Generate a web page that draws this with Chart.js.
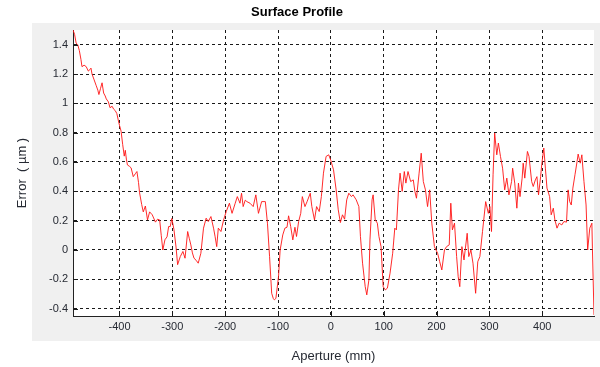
<!DOCTYPE html>
<html>
<head>
<meta charset="utf-8">
<script src="https://cdn.jsdelivr.net/npm/chart.js@4/dist/chart.umd.min.js"></script>
<style>
  html, body { margin: 0; padding: 0; background: #fff; }
  #wrap { width: 600px; height: 367px; }
</style>
</head>
<body>
<div id="wrap"><canvas id="c"></canvas></div>
<script>
// ── datos ─────────────────────────────────────────
const aperture = [
  -488, -485, -482, -479, -476, -473, -471, -467, -463, -459, -456, -454, -452, -448, -444,
  -441, -439, -436, -433, -430, -427, -425, -421, -418, -414, -411, -408, -405, -402, -400,
  -397, -394, -391, -389, -387, -385, -381, -378, -374, -370, -367, -364, -362, -358, -355,
  -351, -347, -343, -338, -332, -328, -324, -321, -318, -314, -310, -307, -304, -301, -297,
  -293, -290, -285, -280, -276, -271, -268, -265, -262, -259, -255, -251, -246, -241, -236,
  -232, -227, -222, -219, -216, -213, -208, -203, -198, -192, -187, -181, -177, -172, -169,
  -166, -162, -159, -153, -147, -142, -137, -131, -124, -120, -116, -112, -109, -107, -104,
  -99, -96, -91, -87, -83, -80, -76, -72, -68, -65, -61, -57, -54, -49, -45,
  -39, -36, -31, -27, -22, -18, -14, -9, -4, 0, 5, 10, 14, 18, 22,
  26, 30, 34, 39, 42, 48, 53, 56, 60, 65, 68, 72, 74, 78, 80,
  84, 88, 91, 95, 99, 103, 107, 112, 117, 121, 124, 128, 131, 135, 139,
  142, 146, 151, 156, 159, 162, 167, 171, 175, 179, 183, 187, 191, 196, 202,
  206, 210, 215, 219, 224, 227, 230, 234, 238, 241, 244, 248, 252, 258, 261,
  265, 269, 274, 278, 282, 287, 293, 298, 301, 304, 307, 310, 314, 317, 321,
  325, 329, 333, 337, 342, 344, 348, 352, 355, 358, 362, 364, 367, 372, 375,
  380, 383, 387, 390, 393, 397, 399, 403, 406, 409, 414, 417, 421, 424, 428,
  432, 437, 441, 446, 449, 452, 455, 458, 462, 466, 468, 472, 475, 479, 483,
  486, 490, 494, 495, 498
];
const errorUm = [
  1.50, 1.47, 1.41, 1.40, 1.36, 1.30, 1.25, 1.26, 1.25, 1.22, 1.23, 1.24, 1.20, 1.16, 1.12,
  1.09, 1.06, 1.10, 1.14, 1.07, 1.05, 1.03, 1.01, 0.97, 0.98, 0.96, 0.95, 0.93, 0.88, 0.85,
  0.81, 0.72, 0.64, 0.68, 0.62, 0.58, 0.57, 0.56, 0.50, 0.52, 0.535, 0.46, 0.39, 0.31, 0.26,
  0.30, 0.205, 0.26, 0.24, 0.19, 0.21, 0.205, 0.10, 0.00, 0.07, 0.09, 0.16, 0.16, 0.215, 0.14,
  0.02, -0.10, -0.045, -0.01, -0.056, 0.126, 0.08, 0.035, -0.02, -0.056, -0.07, -0.09, -0.022, 0.149, 0.217,
  0.194, 0.228, 0.149, 0.09, 0.023, 0.149, 0.126, 0.205, 0.262, 0.319, 0.25, 0.319, 0.364, 0.319, 0.387,
  0.296, 0.34, 0.33, 0.319, 0.296, 0.376, 0.25, 0.33, 0.33, 0.183, -0.045, -0.295, -0.33, -0.34, -0.33,
  -0.18, 0.00, 0.103, 0.149, 0.155, 0.233, 0.16, 0.069, 0.155, 0.092, 0.194, 0.25, 0.364, 0.296, 0.33,
  0.387, 0.296, 0.205, 0.296, 0.262, 0.364, 0.524, 0.638, 0.649, 0.61, 0.547, 0.41, 0.274, 0.187, 0.24,
  0.21, 0.342, 0.387, 0.364, 0.376, 0.342, 0.296, 0.092, -0.09, -0.25, -0.306, -0.204, 0.069, 0.342, 0.376,
  0.205, 0.183, 0.092, 0.023, -0.25, -0.272, -0.26, -0.158, -0.022, 0.149, 0.137, 0.41, 0.524, 0.40, 0.535,
  0.456, 0.535, 0.467, 0.478, 0.40, 0.353, 0.524, 0.66, 0.467, 0.41, 0.296, 0.41, 0.183, 0.023, -0.022,
  -0.08, -0.136, 0.00, 0.023, 0.035, 0.319, 0.137, 0.183, -0.045, -0.182, -0.25, 0.023, -0.068, 0.114, -0.045,
  0.00, -0.09, -0.295, -0.08, -0.045, 0.126, 0.33, 0.25, 0.296, 0.126, 0.513, 0.797, 0.649, 0.729, 0.638,
  0.558, 0.41, 0.49, 0.376, 0.467, 0.558, 0.456, 0.285, 0.456, 0.364, 0.49, 0.592, 0.49, 0.672, 0.638,
  0.467, 0.433, 0.478, 0.50, 0.376, 0.50, 0.58, 0.695, 0.558, 0.422, 0.364, 0.24, 0.285, 0.205, 0.149,
  0.183, 0.171, 0.194, 0.19, 0.41, 0.33, 0.307, 0.422, 0.513, 0.604, 0.654, 0.592, 0.649, 0.467, 0.307,
  0.00, 0.149, 0.183, 0.012, -0.443
];
const xTicks = [-400, -300, -200, -100, 0, 100, 200, 300, 400];
const yTicks = [-0.4, -0.2, 0, 0.2, 0.4, 0.6, 0.8, 1, 1.2, 1.4];

const FONT = "'Liberation Sans', Arial, sans-serif";
const TXT = '#262a33';
const GRID = '#1a1a1a';

// fondo gris tipo panel + área blanca
const panelBg = {
  id: 'panelBg',
  beforeDraw(chart) {
    const {ctx, chartArea: a, width} = chart;
    ctx.save();
    ctx.fillStyle = '#f0f0f0';
    ctx.fillRect(a.left - 41, a.top - 7, width - (a.left - 41), a.bottom - a.top + 32);
    ctx.fillStyle = '#ffffff';
    ctx.fillRect(a.left, a.top, a.right - a.left, a.bottom - a.top);
    ctx.restore();
  },
};

// marcas de tick hacia adentro
const innerTicks = {
  id: 'innerTicks',
  afterDraw(chart) {
    const {ctx, chartArea: a, scales} = chart;
    ctx.save();
    ctx.strokeStyle = GRID;
    ctx.lineWidth = 1;
    ctx.beginPath();
    yTicks.forEach(v => {
      const y = Math.round(scales.y.getPixelForValue(v)) + 0.5;
      ctx.moveTo(a.left, y); ctx.lineTo(a.left + 5, y);
    });
    xTicks.forEach(v => {
      const x = Math.round(scales.x.getPixelForValue(v)) + 0.5;
      ctx.moveTo(x, a.bottom); ctx.lineTo(x, a.bottom - 5);
    });
    ctx.stroke();
    ctx.restore();
  },
};

new Chart(document.getElementById('c'), {
  type: 'line',
  data: {
    datasets: [{
      data: aperture.map((x, i) => ({x, y: errorUm[i]})),
      borderColor: 'rgba(255,20,20,0.9)',
      borderWidth: 1,
      pointRadius: 0,
      tension: 0,
    }],
  },
  options: {
    responsive: true,
    maintainAspectRatio: false,
    animation: false,
    layout: {padding: {left: 0, right: 6, top: 0, bottom: 0}},
    plugins: {
      legend: {display: false},
      tooltip: {enabled: false},
      title: {
        display: true,
        text: 'Surface Profile',
        color: '#000',
        font: {family: FONT, size: 13, weight: 'bold'},
        padding: {top: 5, bottom: 9.4},
      },
    },
    scales: {
      x: {
        type: 'linear',
        min: -488,
        max: 498,
        afterBuildTicks: s => { s.ticks = xTicks.map(v => ({value: v})); },
        afterFit: s => { s.height = 51; },
        grid: {color: GRID, lineWidth: 1, drawTicks: false},
        border: {display: true, color: '#222', width: 1, dash: [3, 3]},
        ticks: {color: TXT, font: {family: FONT, size: 11}, padding: 4, maxRotation: 0},
        title: {display: true, text: 'Aperture (mm)', color: TXT, font: {family: FONT, size: 13}, padding: {top: 0, bottom: 3}},
      },
      y: {
        min: -0.45,
        max: 1.5,
        afterBuildTicks: s => { s.ticks = yTicks.map(v => ({value: v})); },
        afterFit: s => { s.width = 73; },
        grid: {color: GRID, lineWidth: 1, drawTicks: false},
        border: {display: true, color: '#222', width: 1, dash: [3, 3]},
        ticks: {color: TXT, font: {family: FONT, size: 11}, padding: 5, callback: v => String(Math.round(v * 10) / 10)},
        title: {display: true, text: 'Error  ( µm )', color: TXT, font: {family: FONT, size: 13}, padding: {top: 15, bottom: 0}},
      },
    },
  },
  plugins: [panelBg, innerTicks],
});
</script>
</body>
</html>
